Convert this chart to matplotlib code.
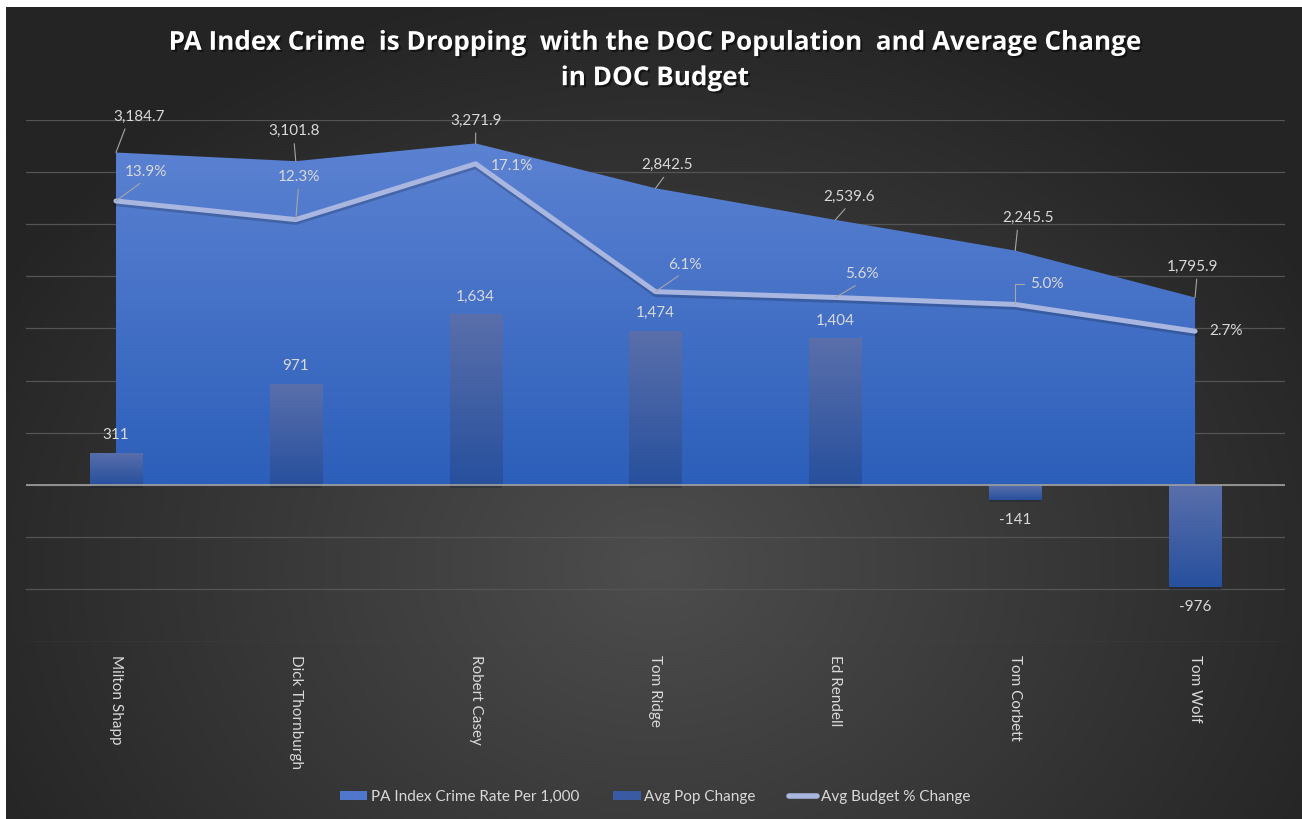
import numpy as np
import matplotlib
matplotlib.use("Agg")
import matplotlib.pyplot as plt
import matplotlib.patheffects as pe
from matplotlib.colors import LinearSegmentedColormap
from matplotlib.patches import Polygon, Patch
from matplotlib.lines import Line2D

plt.rcParams['font.family'] = ['Lato', 'DejaVu Sans']

governors = ["Milton Shapp", "Dick Thornburgh", "Robert Casey", "Tom Ridge",
             "Ed Rendell", "Tom Corbett", "Tom Wolf"]
crime_rate = [3184.7, 3101.8, 3271.9, 2842.5, 2539.6, 2245.5, 1795.9]
pop_change = [311, 971, 1634, 1474, 1404, -141, -976]
budget_pct = [13.9, 12.3, 17.1, 6.1, 5.6, 5.0, 2.7]

# label offsets in pixels (dx, dy) from each point
crime_off = [(23, 36), (-2, 30), (0, 23), (12, 23), (14, 23), (13, 33), (-3, 31)]
crime_rel = [(0.27, 0), (0.5, 0), (0.5, 0), (0.5, 0), (0.5, 0), (0.3, 0), (0.6, 0)]
budget_off = [(30, 29), (3, 43), (36, -2), (29, 27), (27, 23), (32, 20), (31, 0)]

TXT = '#d9d9d9'
LEADER = '#a6a6a6'

fig = plt.figure(figsize=(13.02, 8.19), dpi=100)
fig.patch.set_facecolor('white')

# dark radial background
bg = fig.add_axes([6 / 1302, 0, 1296 / 1302, 812 / 819], zorder=-5)
gx, gy = np.meshgrid(np.linspace(0, 1296, 400), np.linspace(0, 812, 260))
r = np.sqrt(((gx - 650) / 760) ** 2 + ((gy - 560) / 600) ** 2)
r = np.clip(r, 0, 1)
c_in = np.array([0x4d, 0x4d, 0x4d]) / 255
c_out = np.array([0x24, 0x24, 0x24]) / 255
img = c_in[None, None, :] * (1 - r[..., None]) + c_out[None, None, :] * r[..., None]
bg.imshow(img, extent=[0, 1296, 812, 0], aspect='auto', interpolation='bilinear')
bg.axis('off')

ax = fig.add_axes([26 / 1302, 1 - 641.6 / 819, 1259 / 1302, 522 / 819])
ax.set_facecolor('none')
x = np.arange(len(governors))

# area with vertical gradient
area_cmap = LinearSegmentedColormap.from_list('area', ['#2c5fba', '#5c82d2'])
verts = [(x[0], 0)] + list(zip(x, crime_rate)) + [(x[-1], 0)]
area_poly = Polygon(verts, closed=True, facecolor='none', edgecolor='none')
ax.add_patch(area_poly)
grad = np.linspace(1, 0, 256).reshape(-1, 1)
im = ax.imshow(grad, extent=[x[0], x[-1], 0, max(crime_rate)], aspect='auto',
               cmap=area_cmap, zorder=2, interpolation='bilinear')
im.set_clip_path(area_poly)

# bars with gradient
bar_cmap = LinearSegmentedColormap.from_list('bar', ['#27509d', '#5a6fab'])
bw = 0.29
bars = ax.bar(x, pop_change, width=bw, color='#2a519c', zorder=3,
              path_effects=[pe.SimplePatchShadow(offset=(0, -2), alpha=0.25), pe.Normal()])
for b, v in zip(bars, pop_change):
    lo, hi = min(0, v), max(0, v)
    bi = ax.imshow(grad, extent=[b.get_x(), b.get_x() + bw, lo, hi], aspect='auto',
                   cmap=bar_cmap, zorder=3.5, interpolation='bilinear')
    bi.set_clip_path(b)

ax.set_xlim(-0.5, len(governors) - 0.5)
ax.set_ylim(-1500, 3500)
ax.set_yticks(np.arange(-1500, 3501, 500))
ax.yaxis.grid(True, color='#545454', lw=0.9)
ax.set_axisbelow(True)
ax.axhline(0, color='#a0a0a0', lw=1.2, zorder=4)
for s in ax.spines.values():
    s.set_visible(False)
ax.set_xticks(x)
ax.set_xticklabels(governors, rotation=270, color=TXT, fontsize=11, va='top')
ax.tick_params(axis='x', length=0, pad=10)

# crime labels
for i, v in enumerate(crime_rate):
    ax.annotate(f"{v:,.1f}", (x[i], v), xytext=crime_off[i], textcoords='offset pixels',
                ha='center', va='center', color=TXT, fontsize=11, zorder=6,
                arrowprops=dict(arrowstyle='-', color=LEADER, lw=0.8,
                                shrinkA=2, shrinkB=0, relpos=crime_rel[i]))

# bar labels
for i, v in enumerate(pop_change):
    dy = 18 if v >= 0 else -20
    ax.annotate(f"{v:,}", (x[i], v), xytext=(0, dy), textcoords='offset pixels',
                ha='center', va='center', color=TXT, fontsize=11, zorder=6)

# budget line on secondary axis
ax2 = ax.twinx()
ax2.set_facecolor('none')
ax2.set_ylim(-24.0, 20.9)
ax2.axis('off')
ax.tick_params(axis='y', left=False, right=False, labelleft=False, length=0)
ax2.plot(x, budget_pct, color='#a9b6e0', lw=3.6, solid_capstyle='round',
         solid_joinstyle='round', zorder=5,
         path_effects=[pe.SimpleLineShadow(offset=(0, -2), alpha=0.18), pe.Normal()])

for i, v in enumerate(budget_pct):
    dx, dy = budget_off[i]
    if i == 5:
        arrow = dict(arrowstyle='-', color=LEADER, lw=0.8, shrinkA=3, shrinkB=0,
                     relpos=(0, 0.5), connectionstyle='angle,angleA=0,angleB=90,rad=0')
    elif i in (2, 6):
        arrow = None
    else:
        arrow = dict(arrowstyle='-', color=LEADER, lw=0.8, shrinkA=2, shrinkB=0,
                     relpos=(0.5, 0))
    ax2.annotate(f"{v:.1f}%", (x[i], v), xytext=(dx, dy), textcoords='offset pixels',
                 ha='center', va='center', color=TXT, fontsize=11, zorder=6,
                 arrowprops=arrow)

fig.text(0.503, 1 - 60 / 819,
         "PA Index Crime  is Dropping  with the DOC Population  and Average Change\nin DOC Budget",
         ha='center', va='center', color='white', fontsize=18.8, fontweight='bold',
         family=['Open Sans', 'DejaVu Sans'], linespacing=1.4,
         path_effects=[pe.withSimplePatchShadow(offset=(1.5, -1.5), shadow_rgbFace='black', alpha=0.5)])

handles = [Patch(facecolor='#4f78cc', edgecolor='none'),
           Patch(facecolor='#3a5aa3', edgecolor='none'),
           Line2D([0], [0], color='#a9b6e0', lw=4, solid_capstyle='round')]
labels = ["PA Index Crime Rate Per 1,000", "Avg Pop Change", "Avg Budget % Change"]
leg = fig.legend(handles, labels, loc='center', bbox_to_anchor=(0.503, 1 - 797 / 819),
                 ncol=3, frameon=False, fontsize=11, labelcolor=TXT,
                 handlelength=1.8, handleheight=0.6, handletextpad=0.25, columnspacing=2.2)

fig.savefig("out.png", dpi=100)
